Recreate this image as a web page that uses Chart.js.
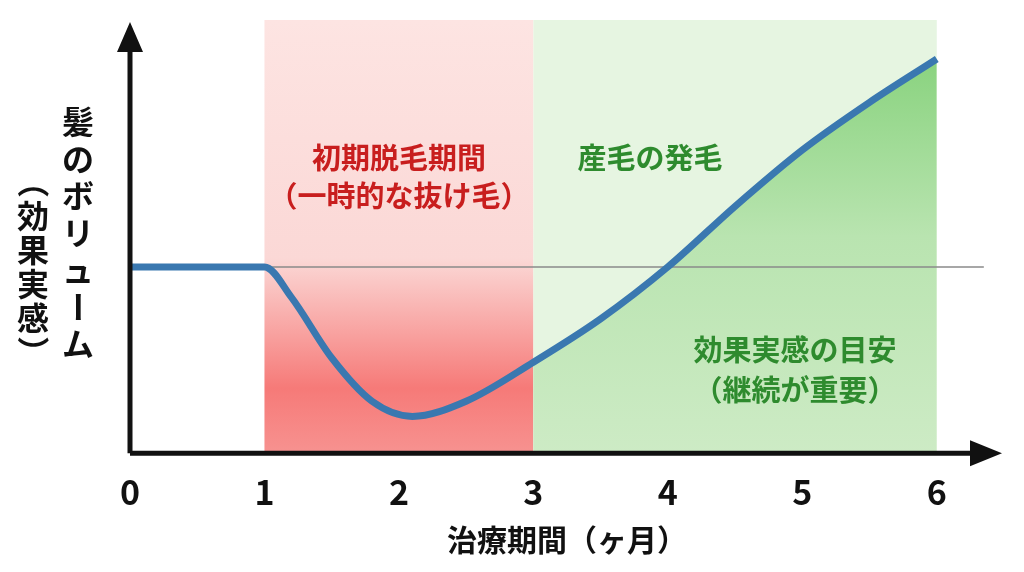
<!DOCTYPE html>
<html>
<head>
<meta charset="utf-8">
<script src="https://cdn.jsdelivr.net/npm/chart.js@4.4.1/dist/chart.umd.min.js"></script>
<style>
  body { margin: 0; background: #fff; }
  #wrap { width: 1024px; height: 572px; }
</style>
</head>
<body>
<div id="wrap"><canvas id="grafico"></canvas></div>
<script>
// 治療期間（ヶ月）と髪のボリューム
const meses = [0, 1, 1.2, 1.5, 1.8, 2.1, 2.5, 3, 3.5, 4, 4.5, 5, 5.5, 6];
const volumen = [43, 43, 36, 22, 12, 8.5, 12, 21, 31, 43, 57, 70, 81, 91];
const nivelBase = 43;
const tickLabels = ['0', '1', '2', '3', '4', '5', '6'];
const FONT = '"Noto Sans CJK JP", "Noto Sans", sans-serif';

const fondoPlugin = {
    id: 'fondo',
    beforeDatasetsDraw(chart) {
        const { ctx, scales: { x, y } } = chart;
        const top = y.getPixelForValue(100), bottom = y.getPixelForValue(0);
        // 初期脱毛期間
        let g = ctx.createLinearGradient(0, top, 0, bottom);
        g.addColorStop(0, '#fde4e2');
        g.addColorStop(0.55, '#fbd8d6');
        g.addColorStop(0.85, '#f67a78');
        g.addColorStop(1, '#f79290');
        ctx.fillStyle = g;
        ctx.fillRect(x.getPixelForValue(1), top, x.getPixelForValue(3) - x.getPixelForValue(1), bottom - top);
        // 産毛の発毛
        ctx.fillStyle = '#e6f5e1';
        ctx.fillRect(x.getPixelForValue(3), top, x.getPixelForValue(6) - x.getPixelForValue(3), bottom - top);
        // under-curve green
        const meta = chart.getDatasetMeta(0);
        ctx.save();
        ctx.beginPath();
        ctx.rect(x.getPixelForValue(3), top, x.getPixelForValue(6) - x.getPixelForValue(3), bottom - top);
        ctx.clip();
        g = ctx.createLinearGradient(0, top, 0, bottom);
        g.addColorStop(0, '#7fcf74');
        g.addColorStop(0.5, '#b9e4b0');
        g.addColorStop(1, '#cdebc5');
        ctx.fillStyle = g;
        ctx.beginPath();
        ctx.moveTo(meta.data[0].x, bottom);
        meta.data.forEach(p => ctx.lineTo(p.x, p.y));
        ctx.lineTo(meta.data[meta.data.length - 1].x, bottom);
        ctx.closePath();
        ctx.fill();
        ctx.restore();
        // 基準線
        ctx.strokeStyle = '#8a8a8a';
        ctx.lineWidth = 1.5;
        const yb = y.getPixelForValue(nivelBase);
        ctx.beginPath();
        ctx.moveTo(x.getPixelForValue(0), yb);
        ctx.lineTo(x.getPixelForValue(6.35), yb);
        ctx.stroke();
    },
    afterDraw(chart) {
        const { ctx, scales: { x, y } } = chart;
        const x0 = x.getPixelForValue(0), y0 = y.getPixelForValue(0);
        ctx.save();
        ctx.strokeStyle = '#111';
        ctx.fillStyle = '#111';
        ctx.lineWidth = 5;
        ctx.beginPath();
        ctx.moveTo(x0, y0);
        ctx.lineTo(x0, 45);
        ctx.moveTo(x0, y0);
        ctx.lineTo(975, y0);
        ctx.stroke();
        ctx.beginPath();
        ctx.moveTo(x0, 22); ctx.lineTo(x0 - 13, 52); ctx.lineTo(x0 + 13, 52); ctx.closePath();
        ctx.moveTo(1002, y0); ctx.lineTo(970, y0 - 13); ctx.lineTo(970, y0 + 13); ctx.closePath();
        ctx.fill();
        // 縦書きの軸タイトル
        ctx.font = 'bold 32px ' + FONT;
        ctx.textAlign = 'center';
        ctx.textBaseline = 'middle';
        const col1 = ['髪', 'の', 'ボ', 'リ', 'ュ', 'ー', 'ム'];
        col1.forEach((c, i) => {
            ctx.save();
            ctx.translate(78, 122 + i * 37);
            if (c === 'ー') ctx.rotate(Math.PI / 2);
            ctx.fillText(c, 0, 0);
            ctx.restore();
        });
        const col2 = ['（', '効', '果', '実', '感', '）'];
        col2.forEach((c, i) => {
            ctx.save();
            ctx.translate(33, 182 + i * 34);
            if (c === '（' || c === '）') ctx.rotate(Math.PI / 2);
            ctx.fillText(c, 0, 0);
            ctx.restore();
        });
        // 注釈
        ctx.font = 'bold 29px ' + FONT;
        ctx.fillStyle = '#c81e1e';
        ctx.fillText('初期脱毛期間', x.getPixelForValue(2), 158);
        ctx.fillText('（一時的な抜け毛）', x.getPixelForValue(2), 196);
        ctx.fillStyle = '#2e8b2e';
        ctx.fillText('産毛の発毛', 650, 158);
        ctx.fillText('効果実感の目安', 795, 350);
        ctx.fillText('（継続が重要）', 795, 390);
        ctx.restore();
    }
};

new Chart(document.getElementById('grafico'), {
    type: 'line',
    data: {
        datasets: [{
            data: meses.map((m, i) => ({ x: m, y: volumen[i] })),
            borderColor: '#3a78b0',
            borderWidth: 7,
            pointRadius: 0,
            tension: 0.4,
            cubicInterpolationMode: 'monotone',
            fill: false
        }]
    },
    options: {
        responsive: true,
        maintainAspectRatio: false,
        animation: false,
        layout: { padding: { left: 130, right: 20, top: 20, bottom: 10 } },
        plugins: { legend: { display: false }, tooltip: { enabled: false } },
        scales: {
            x: {
                type: 'linear', min: 0, max: 6.5,
                grid: { display: false }, border: { display: false },
                afterBuildTicks: s => { s.ticks = tickLabels.map(v => ({ value: Number(v) })); },
                ticks: { color: '#111', font: { size: 34, weight: 'bold', family: FONT }, padding: 10, maxRotation: 0 },
                title: { display: true, text: '治療期間（ヶ月）', color: '#111', font: { size: 30, weight: 'bold', family: FONT }, padding: { top: 0 } }
            },
            y: {
                min: 0, max: 100,
                display: false
            }
        }
    },
    plugins: [fondoPlugin]
});
</script>
</body>
</html>
